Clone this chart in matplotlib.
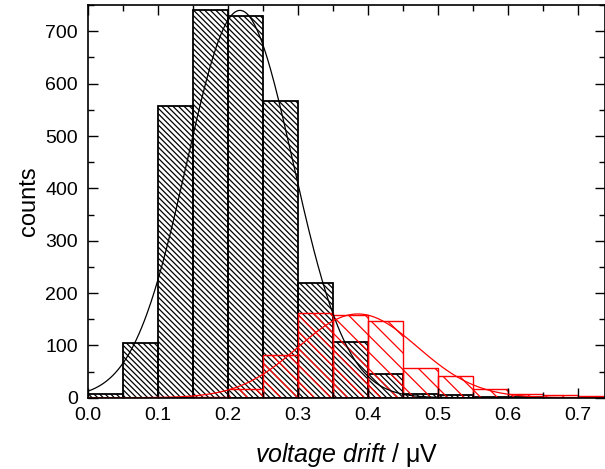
import numpy as np
import matplotlib
matplotlib.use("Agg")
import matplotlib.pyplot as plt

plt.rcParams['font.family'] = ['Liberation Sans', 'DejaVu Sans']
plt.rcParams['mathtext.fontset'] = 'custom'
plt.rcParams['mathtext.rm'] = 'Liberation Sans'
plt.rcParams['mathtext.it'] = 'Liberation Sans:italic'
plt.rcParams['hatch.linewidth'] = 0.9

# histogram bins (left edges), width 0.05
bin_left = [0.0, 0.05, 0.10, 0.15, 0.20, 0.25, 0.30, 0.35, 0.40, 0.45, 0.50, 0.55, 0.60, 0.65, 0.70]
black_counts = [8, 105, 558, 741, 730, 567, 219, 106, 45, 8, 6, 2, 1, 0, 0]
red_counts = [0, 0, 0, 1, 16, 82, 161, 158, 147, 56, 41, 16, 8, 5, 3]

# gaussian fit parameters (amplitude, centre, sigma)
black_fit = (740, 0.2175, 0.076)
red_fit = (160, 0.386, 0.085)

fig = plt.figure(figsize=(6.05, 4.69), dpi=100)
ax = fig.add_axes([0.145, 0.152, 0.855, 0.837])

ax.bar(bin_left, black_counts, width=0.05, align='edge', facecolor='none',
       edgecolor='black', linewidth=1.3, hatch='\\\\\\\\\\\\')
ax.bar(bin_left, red_counts, width=0.05, align='edge', facecolor='none',
       edgecolor='red', linewidth=1.0, hatch='\\\\')

x = np.linspace(0, 0.75, 400)
a, m, s = black_fit
ax.plot(x, a * np.exp(-(x - m) ** 2 / (2 * s ** 2)), color='black', lw=0.9)
a, m, s = red_fit
ax.plot(x, a * np.exp(-(x - m) ** 2 / (2 * s ** 2)), color='red', lw=0.9)

ax.set_xlim(0, 0.739)
ax.set_ylim(0, 750)
ax.set_xticks(np.arange(0, 0.71, 0.1))
ax.set_xticks(np.arange(0.05, 0.74, 0.1), minor=True)
ax.set_yticks(np.arange(0, 701, 100))
ax.set_yticks(np.arange(50, 751, 100), minor=True)
ax.xaxis.set_major_formatter(matplotlib.ticker.FormatStrFormatter('%.1f'))
ax.tick_params(which='both', direction='in', top=True, right=True, labelsize=14, width=1.0)
ax.tick_params(which='major', length=7)
ax.tick_params(which='minor', length=4)
ax.tick_params(axis='x', which='major', pad=7)
ax.tick_params(axis='y', which='major', pad=7)
for sp in ax.spines.values():
    sp.set_linewidth(1.2)

ax.set_xlabel(r'$\mathit{voltage\ drift}$ / μV', fontsize=18, labelpad=12)
ax.set_ylabel('counts', fontsize=17, labelpad=4)

fig.savefig('out.png', dpi=100)
